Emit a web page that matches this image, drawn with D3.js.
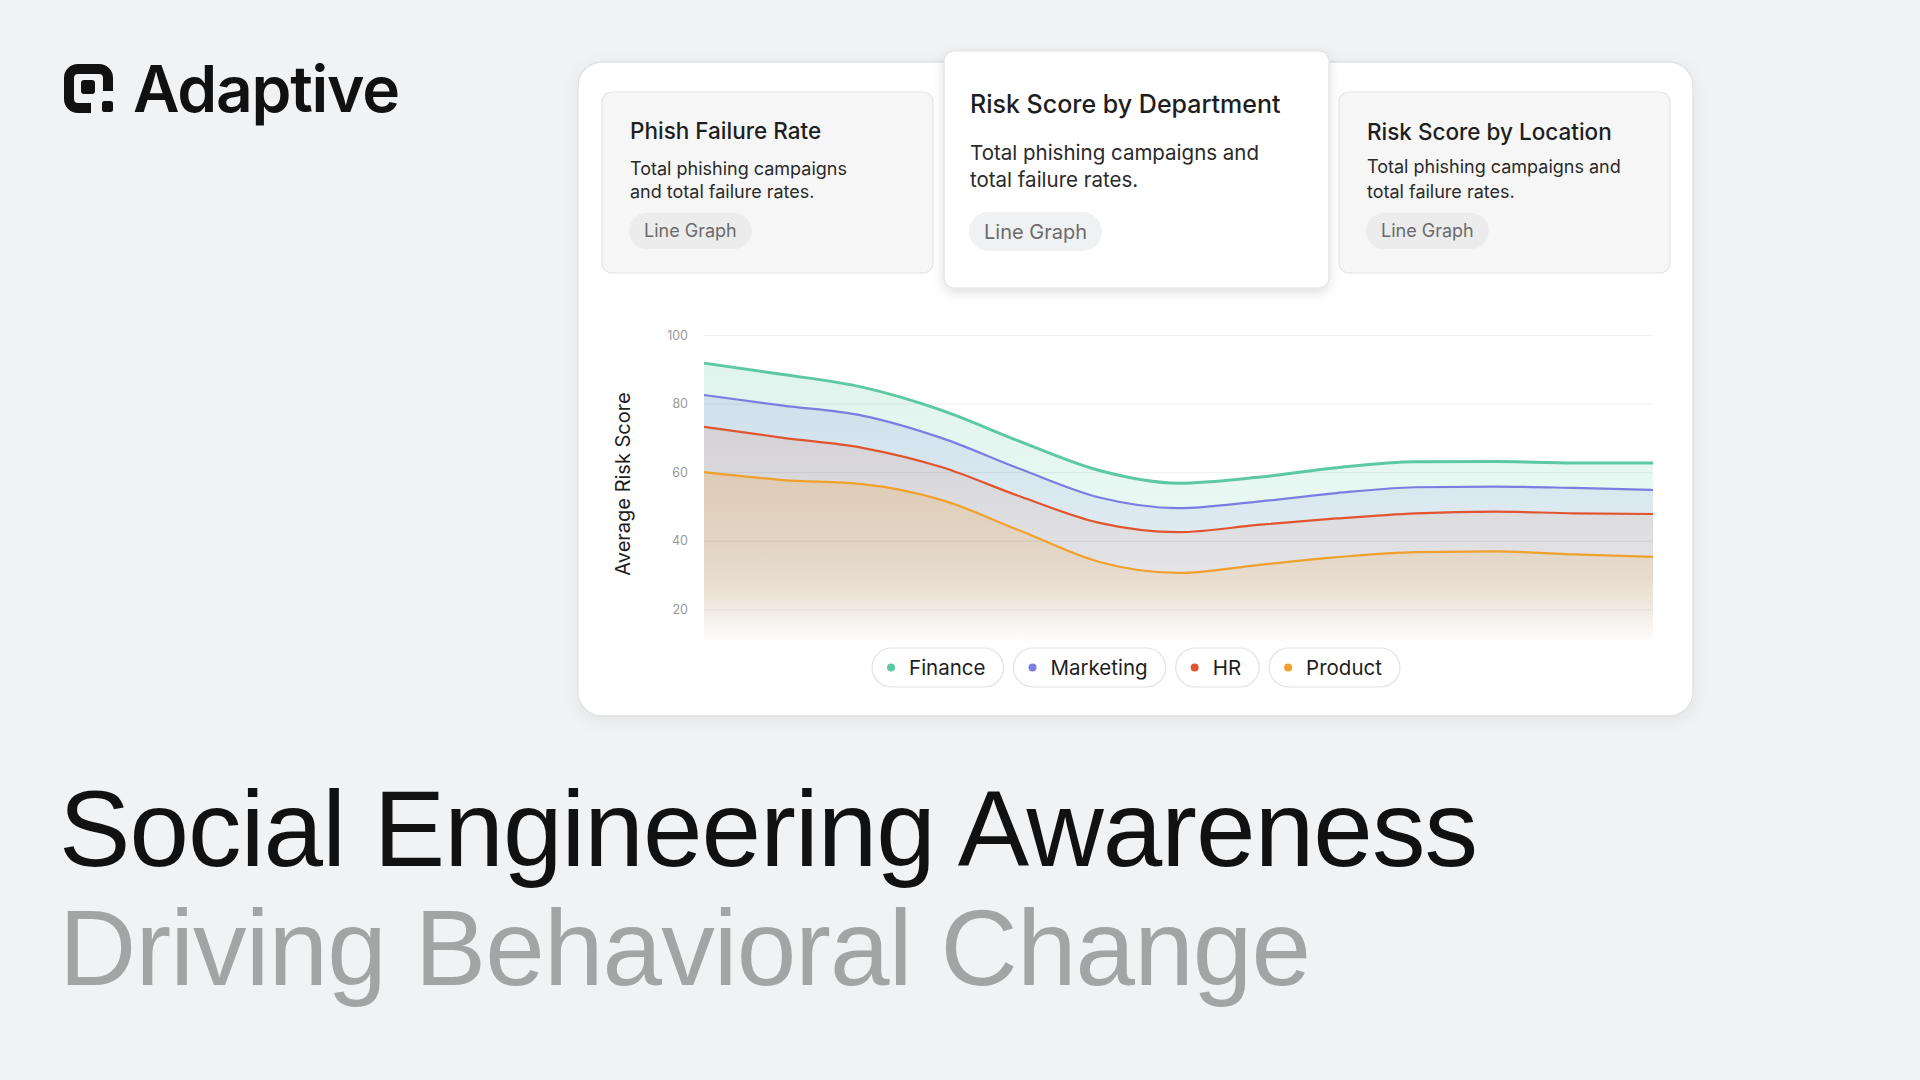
<!DOCTYPE html>
<html>
<head>
<meta charset="utf-8">
<script src="https://cdn.jsdelivr.net/npm/d3@7"></script>
<style>
  html, body { margin: 0; padding: 0; background: #f1f2f4; }
  svg { display: block; }
</style>
</head>
<body>
<svg id="chart"></svg>
<script>
// Periods along the x axis (no labels shown in the picture)
const periods = ['W1', 'W2', 'W3', 'W4', 'W5', 'W6', 'W7', 'W8', 'W9', 'W10', 'W11', 'W12', 'W13'];
const departments = ['Finance', 'Marketing', 'HR', 'Product'];
// Average risk score per department
const financeScores   = [91.8, 88.5, 84.8, 78.1, 68.9, 60.5, 56.8, 58.5, 61.3, 63.0, 63.1, 62.7, 62.7];
const marketingScores = [82.5, 79.4, 76.5, 70.0, 60.9, 52.6, 49.5, 51.4, 53.9, 55.6, 55.8, 55.4, 54.8];
const hrScores        = [73.2, 70.0, 67.1, 61.5, 52.9, 45.2, 42.5, 44.6, 46.5, 48.0, 48.5, 48.0, 47.8];
const productScores   = [60.0, 57.7, 56.5, 51.9, 42.9, 33.8, 30.6, 32.9, 35.2, 36.7, 36.9, 36.0, 35.3];
const yTicks = [20, 40, 60, 80, 100];
const yDomain = [10, 100];

// Card texts
const cardTitles = ['Phish Failure Rate', 'Risk Score by Department', 'Risk Score by Location'];
const cardLines = [
  ['Total phishing campaigns', 'and total failure rates.'],
  ['Total phishing campaigns and', 'total failure rates.'],
  ['Total phishing campaigns and', 'total failure rates.']
];
const cardTag = 'Line Graph';

const brandName = 'Adaptive';
const headline = 'Social Engineering Awareness';
const subline = 'Driving Behavioral Change';

const series = [financeScores, marketingScores, hrScores, productScores];
const colors = ['#5dc9a2', '#7b7ee0', '#e0552f', '#f0a02c'];
const fillAlpha = [0.2, 0.17, 0.12, 0.22];
const lineWidth = [3, 2.2, 2.2, 2.2];

const width = 1920;
const height = 1080;
const bg = '#f1f2f4';

const svg = d3.select('#chart')
  .attr('width', width)
  .attr('height', height)
  .style('font-family', 'Inter, "Noto Sans", sans-serif');

svg.append('rect').attr('width', width).attr('height', height).attr('fill', bg);

const defs = svg.append('defs');
defs.append('filter').attr('id', 'panelShadow')
  .attr('x', '-10%').attr('y', '-10%').attr('width', '120%').attr('height', '130%')
  .append('feDropShadow')
  .attr('dx', 0).attr('dy', 4).attr('stdDeviation', 8)
  .attr('flood-color', '#000').attr('flood-opacity', 0.06);
defs.append('filter').attr('id', 'cardShadow')
  .attr('x', '-10%').attr('y', '-10%').attr('width', '120%').attr('height', '130%')
  .append('feDropShadow')
  .attr('dx', 0).attr('dy', 4).attr('stdDeviation', 6)
  .attr('flood-color', '#000').attr('flood-opacity', 0.13);

// ---- Logo ----
const logo = svg.append('g');
logo.append('rect').attr('x', 69).attr('y', 69).attr('width', 39).attr('height', 39)
  .attr('rx', 9).attr('fill', 'none').attr('stroke', '#111').attr('stroke-width', 10);
logo.append('rect').attr('x', 91).attr('y', 91).attr('width', 25).attr('height', 25).attr('fill', bg);
logo.append('rect').attr('x', 81).attr('y', 80).attr('width', 14).attr('height', 14)
  .attr('rx', 3).attr('fill', '#111');
logo.append('rect').attr('x', 102).attr('y', 101).attr('width', 11).attr('height', 11)
  .attr('rx', 2.5).attr('fill', '#111');
const brand = logo.append('text')
  .attr('x', 133).attr('y', 112)
  .attr('font-size', 64).attr('font-weight', 600).attr('fill', '#111')
  .text(brandName);

// Stretch/squeeze tracking so a text spans the wanted width
function fitText(sel, target) {
  const n = sel.text().length;
  const w = sel.node().getComputedTextLength();
  sel.attr('letter-spacing', (target - w) / (n - 1));
}
fitText(brand, 267);

// ---- Panel ----
svg.append('rect')
  .attr('x', 578).attr('y', 62).attr('width', 1115).attr('height', 654).attr('rx', 24)
  .attr('fill', '#fff').attr('stroke', '#dfe0e2').attr('stroke-width', 1.3)
  .attr('filter', 'url(#panelShadow)');

// ---- Cards ----
const cardLayout = [
  { x: 602, y: 92, w: 331, h: 181, fill: '#f6f6f6', stroke: '#e4e4e4', tx: 630, titleY: 139, titleSize: 22.5,
    descY: [175, 198], descSize: 18, pillY: 213, pillH: 36, tagSize: 18, tagY: 237, pillFill: '#ececed', shadow: false },
  { x: 944, y: 51, w: 385, h: 237, fill: '#fff', stroke: '#e2e2e2', tx: 970, titleY: 113, titleSize: 25,
    descY: [160, 187], descSize: 20.5, pillY: 212, pillH: 39, tagSize: 20, tagY: 239, pillFill: '#f0f1f2', shadow: true },
  { x: 1339, y: 92, w: 331, h: 181, fill: '#f6f6f6', stroke: '#e4e4e4', tx: 1367, titleY: 140, titleSize: 22.5,
    descY: [173, 198], descSize: 18, pillY: 213, pillH: 36, tagSize: 18, tagY: 237, pillFill: '#ececed', shadow: false }
];

cardLayout.forEach(function (c, i) {
  const g = svg.append('g');
  g.append('rect')
    .attr('x', c.x).attr('y', c.y).attr('width', c.w).attr('height', c.h).attr('rx', 10)
    .attr('fill', c.fill).attr('stroke', c.stroke).attr('stroke-width', 1.2)
    .attr('filter', c.shadow ? 'url(#cardShadow)' : null);
  g.append('text')
    .attr('x', c.tx).attr('y', c.titleY)
    .attr('font-size', c.titleSize).attr('font-weight', 500).attr('fill', '#1e1e1e')
    .text(cardTitles[i]);
  g.selectAll('.desc')
    .data(cardLines[i])
    .enter().append('text')
    .attr('x', c.tx).attr('y', function (d, j) { return c.descY[j]; })
    .attr('font-size', c.descSize).attr('fill', '#2a2a2a')
    .text(function (d) { return d; });
  const pill = g.append('rect').attr('fill', c.pillFill);
  const tag = g.append('text')
    .attr('x', c.tx + 14).attr('y', c.tagY)
    .attr('font-size', c.tagSize).attr('fill', '#6b6b6b')
    .text(cardTag);
  const tw = tag.node().getComputedTextLength();
  pill.attr('x', c.tx - 1).attr('y', c.pillY)
    .attr('width', tw + 30).attr('height', c.pillH).attr('rx', c.pillH / 2);
});

// ---- Chart ----
const plotLeft = 704;
const plotRight = 1653;
const x = d3.scalePoint().domain(periods).range([plotLeft, plotRight]);
const y = d3.scaleLinear().domain(yDomain).range([643.6, 335]);

departments.forEach(function (dep, i) {
  const grad = defs.append('linearGradient')
    .attr('id', 'fill' + i)
    .attr('x1', 0).attr('y1', 0).attr('x2', 0).attr('y2', 1);
  grad.append('stop').attr('offset', '0%').attr('stop-color', colors[i]).attr('stop-opacity', fillAlpha[i]);
  grad.append('stop').attr('offset', '70%').attr('stop-color', colors[i]).attr('stop-opacity', fillAlpha[i] * 0.55);
  grad.append('stop').attr('offset', '100%').attr('stop-color', colors[i]).attr('stop-opacity', 0);
});

const area = d3.area()
  .x(function (d, j) { return x(periods[j]); })
  .y0(y(yDomain[0]))
  .y1(function (d) { return y(d); })
  .curve(d3.curveMonotoneX);

const line = d3.line()
  .x(function (d, j) { return x(periods[j]); })
  .y(function (d) { return y(d); })
  .curve(d3.curveMonotoneX);

const plot = svg.append('g');

plot.selectAll('.area')
  .data(series)
  .enter().append('path')
  .attr('class', 'area')
  .attr('d', area)
  .attr('fill', function (d, i) { return 'url(#fill' + i + ')'; });

// Gridlines over the fills
plot.append('g')
  .attr('transform', 'translate(' + plotLeft + ',0)')
  .call(d3.axisLeft(y).tickValues(yTicks).tickSize(-(plotRight - plotLeft)).tickFormat(''))
  .call(function (g) { g.select('.domain').remove(); })
  .selectAll('line')
  .attr('stroke', '#000').attr('stroke-opacity', 0.065);

// Tick labels
plot.append('g')
  .attr('transform', 'translate(' + plotLeft + ',0)')
  .call(d3.axisLeft(y).tickValues(yTicks).tickSize(0).tickPadding(16))
  .call(function (g) { g.select('.domain').remove(); })
  .selectAll('text')
  .attr('font-family', 'Inter, sans-serif')
  .attr('font-size', 12.5)
  .attr('fill', '#999');

plot.selectAll('.line')
  .data(series)
  .enter().append('path')
  .attr('class', 'line')
  .attr('d', line)
  .attr('fill', 'none')
  .attr('stroke', function (d, i) { return colors[i]; })
  .attr('stroke-width', function (d, i) { return lineWidth[i]; })
  .attr('stroke-linejoin', 'round');

// Y axis title
svg.append('text')
  .attr('transform', 'translate(630,484) rotate(-90)')
  .attr('text-anchor', 'middle')
  .attr('font-size', 20).attr('fill', '#1e1e1e')
  .text('Average Risk Score');

// ---- Legend ----
const legend = svg.append('g');
let lx = 0;
departments.forEach(function (dep, i) {
  const g = legend.append('g').attr('transform', 'translate(' + lx + ',648)');
  const pill = g.append('rect').attr('height', 39).attr('rx', 19.5)
    .attr('fill', '#fff').attr('stroke', '#e3e3e3').attr('stroke-width', 1.2);
  g.append('circle').attr('cx', 19).attr('cy', 19.5).attr('r', 4).attr('fill', colors[i]);
  const t = g.append('text').attr('x', 37).attr('y', 26.5)
    .attr('font-size', 20.5).attr('fill', '#1e1e1e').text(dep);
  const w = 37 + t.node().getComputedTextLength() + 18;
  pill.attr('width', w);
  lx += w + 10;
});
// centre the legend under the panel
legend.attr('transform', 'translate(' + (1136 - (lx - 10) / 2) + ',0)');

// ---- Headline ----
const h1 = svg.append('text')
  .attr('x', 59).attr('y', 866)
  .attr('font-family', '"Liberation Sans", Arial, sans-serif')
  .attr('font-size', 107).attr('fill', '#111')
  .text(headline);
fitText(h1, 1419);

const h2 = svg.append('text')
  .attr('x', 59).attr('y', 985)
  .attr('font-family', '"Liberation Sans", Arial, sans-serif')
  .attr('font-size', 107).attr('fill', '#a3a4a4')
  .text(subline);
fitText(h2, 1252);
</script>
</body>
</html>
